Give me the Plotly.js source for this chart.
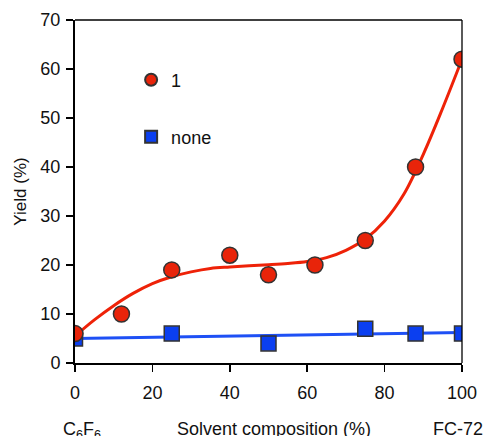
<!DOCTYPE html>
<html>
<head>
<meta charset="utf-8">
<script src="https://cdn.plot.ly/plotly-3.0.1.min.js"></script>
<style>html,body{margin:0;padding:0;background:#fff;}#chart{width:484px;height:436px;}</style>
</head>
<body>
<div id="chart"></div>
<script>
// Measured data
const compX = [0, 12, 25, 40, 50, 62, 75, 88, 100];
const yield1 = [6, 10, 19, 22, 18, 20, 25, 40, 62];
const compXNone = [0, 25, 50, 75, 88, 100];
const yieldNone = [5, 6, 4, 7, 6, 6];
// Trendline values
const fitX1 = [0, 5, 10, 15, 20, 25, 30, 35, 40, 45, 50, 55, 60, 65, 70, 75, 80, 85, 90, 95, 100];
const fitY1 = [5.5, 8.8, 11.7, 14.2, 16.2, 17.6, 18.6, 19.3, 19.6, 19.85, 20.05, 20.3, 20.7, 21.5, 23.0, 25.3, 29.0, 34.5, 42.6, 52.0, 62];
const fitXNone = [0, 100];
const fitYNone = [5.0, 6.2];
const xTicks = [0, 20, 40, 60, 80, 100];
const yTicks = [0, 10, 20, 30, 40, 50, 60, 70];

const red = '#e8240a';
const redLine = '#ee2208';
const blue = '#0b3ff0';
const blueLine = '#1e50f5';

const traces = [
  {x: fitXNone, y: fitYNone, mode: 'lines', line: {color: blueLine, width: 3}, showlegend: false, hoverinfo: 'skip'},
  {x: fitX1, y: fitY1, mode: 'lines', line: {color: redLine, width: 3, shape: 'spline', smoothing: 1}, showlegend: false, hoverinfo: 'skip'},
  {x: compXNone, y: yieldNone, mode: 'markers', name: 'none', legend: 'legend2',
   marker: {symbol: 'square', size: 15, color: blue, line: {color: '#333', width: 1.5}}},
  {x: compX, y: yield1, mode: 'markers', name: '1', legend: 'legend',
   marker: {symbol: 'circle', size: 16, color: red, line: {color: '#333', width: 1.5}}}
];

const fontFam = 'Liberation Sans, Arial, sans-serif';
const txt = {size: 18, family: fontFam, color: '#111'};
const layout = {
  width: 484, height: 436,
  margin: {l: 75, r: 22.3, t: 20, b: 73.3},
  paper_bgcolor: '#fff', plot_bgcolor: '#fff',
  font: txt,
  showlegend: true,
  legend: {x: 0.145, y: 0.825, xanchor: 'left', yanchor: 'middle', bgcolor: 'rgba(0,0,0,0)', itemsizing: 'constant', font: txt},
  legend2: {x: 0.145, y: 0.659, xanchor: 'left', yanchor: 'middle', bgcolor: 'rgba(0,0,0,0)', itemsizing: 'constant', font: txt},
  xaxis: {
    range: [0, 100], tickvals: xTicks, ticktext: xTicks.map(String),
    showgrid: false, zeroline: false, showline: true, linecolor: '#000', linewidth: 2,
    ticks: 'outside', ticklen: 7, tickwidth: 1.5, tickcolor: '#000',
    tickfont: txt, ticklabelstandoff: 5
  },
  yaxis: {
    range: [0, 70], tickvals: yTicks, ticktext: yTicks.map(String),
    showgrid: false, zeroline: false, showline: true, linecolor: '#000', linewidth: 2,
    ticks: 'outside', ticklen: 7, tickwidth: 1.5, tickcolor: '#000',
    tickfont: txt, ticklabelstandoff: 2,
    title: {text: 'Yield (%)', font: {size: 17, family: fontFam, color: '#111'}, standoff: 9}
  },
  shapes: [
    {type: 'line', xref: 'paper', yref: 'paper', x0: 0, x1: 1, y0: 1, y1: 1, line: {color: '#000', width: 1.3}},
    {type: 'line', xref: 'paper', yref: 'paper', x0: 1, x1: 1, y0: 0, y1: 1, line: {color: '#000', width: 1.3}}
  ],
  annotations: [
    {text: 'C<sub>6</sub>F<sub>6</sub>', xref: 'paper', yref: 'paper', x: (82 - 75) / 386.7, y: 0, xanchor: 'center', yanchor: 'top', yshift: -54, showarrow: false, font: txt},
    {text: 'Solvent composition (%)', xref: 'paper', yref: 'paper', x: (274 - 75) / 386.7, y: 0, xanchor: 'center', yanchor: 'top', yshift: -54, showarrow: false, font: txt},
    {text: 'FC-72', xref: 'paper', yref: 'paper', x: (458 - 75) / 386.7, y: 0, xanchor: 'center', yanchor: 'top', yshift: -54, showarrow: false, font: txt}
  ]
};

Plotly.newPlot('chart', traces, layout, {displayModeBar: false, staticPlot: true});
</script>
</body>
</html>
